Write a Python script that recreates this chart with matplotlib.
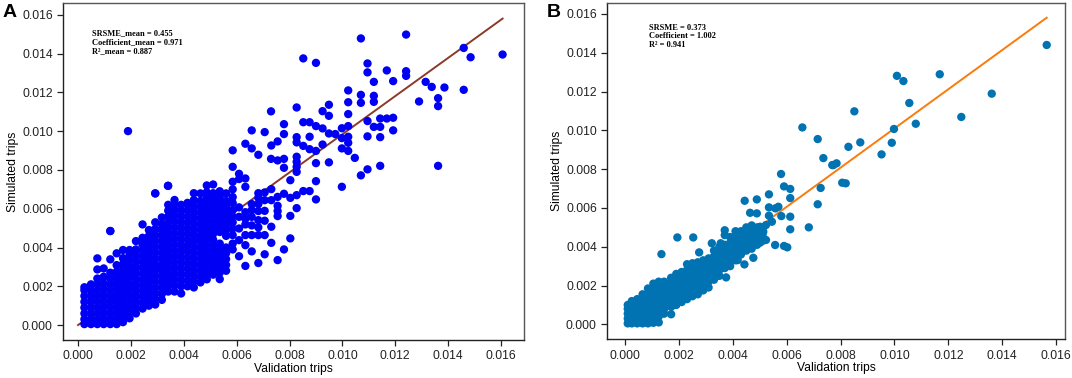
"""Simulated vs validation trips, two panels (A: mean over runs, B: single run)."""
import numpy as np
import matplotlib; matplotlib.use('Agg'); import matplotlib.pyplot as plt
plt.rcParams.update({'font.family': ['Liberation Sans', 'DejaVu Sans'], 'font.size': 8.7})

MILLI = 1e-3  # all values below are in units of 1e-3 trips

# ---- panel A: dense band near the origin, one list of y per x column ----
a_col_x = [0.24, 0.49, 0.73, 0.97, 1.22, 1.46, 1.70, 1.95, 2.19, 2.44, 2.68, 2.92,
           3.17, 3.41, 3.65, 3.90, 4.14, 4.38, 4.63, 4.87, 5.11, 5.36, 5.60, 5.85]
a_col_y = [
    [0.05, 0.3, 0.6, 0.9, 1.2, 1.5, 1.8, 1.95],
    [0.05, 0.3, 0.6, 0.9, 1.2, 1.5, 1.8, 2.1],
    [0.05, 0.3, 0.6, 0.9, 1.2, 1.5, 1.8, 2.1, 2.4, 2.87, 3.44],
    [0.05, 0.35, 0.65, 0.95, 1.25, 1.55, 1.85, 2.15, 2.49, 2.92],
    [0.05, 0.3, 0.6, 0.9, 1.2, 1.5, 1.8, 2.1, 2.4, 2.7, 3.39, 4.85],
    [0.05, 0.35, 0.65, 0.95, 1.25, 1.55, 1.85, 2.15, 2.45, 2.75, 3.09, 3.70],
    [0.15, 0.45, 0.75, 1.05, 1.35, 1.65, 1.95, 2.25, 2.55, 2.85, 3.15, 3.45, 3.87],
    [0.35, 0.65, 0.95, 1.25, 1.55, 1.85, 2.15, 2.45, 2.75, 3.05, 3.35, 3.65, 3.87],
    [0.6, 0.9, 1.2, 1.5, 1.8, 2.1, 2.4, 2.7, 3.0, 3.3, 3.6, 3.9, 4.33],
    [0.85, 1.15, 1.45, 1.75, 2.05, 2.35, 2.65, 2.95, 3.25, 3.55, 3.85, 4.15, 4.5, 5.19],
    [1.0, 1.3, 1.6, 1.9, 2.2, 2.5, 2.8, 3.1, 3.4, 3.7, 4.0, 4.3, 4.6, 4.9],
    [1.06, 1.35, 1.65, 1.95, 2.25, 2.55, 2.85, 3.15, 3.45, 3.75, 4.05, 4.35, 4.65, 4.95, 5.3, 6.79],
    [1.3, 1.6, 1.9, 2.2, 2.5, 2.8, 3.1, 3.4, 3.7, 4.0, 4.3, 4.6, 4.9, 5.2, 5.55],
    [1.73, 2.0, 2.3, 2.6, 2.9, 3.2, 3.5, 3.8, 4.1, 4.4, 4.7, 5.0, 5.3, 5.6, 5.9, 6.2, 7.18],
    [1.73, 2.05, 2.35, 2.65, 2.95, 3.25, 3.55, 3.85, 4.15, 4.45, 4.75, 5.05, 5.35, 5.65, 5.95, 6.25, 6.45],
    [1.63, 2.0, 2.3, 2.6, 2.9, 3.2, 3.5, 3.8, 4.1, 4.4, 4.7, 5.0, 5.3, 5.6, 5.9, 6.2],
    [2.0, 2.3, 2.6, 2.9, 3.2, 3.5, 3.8, 4.1, 4.4, 4.7, 5.0, 5.3, 5.6, 5.9, 6.2, 6.3],
    [1.94, 2.25, 2.55, 2.85, 3.15, 3.45, 3.75, 4.05, 4.35, 4.65, 4.95, 5.25, 5.55, 5.85, 6.15, 6.45, 6.8],
    [2.2, 2.5, 2.8, 3.1, 3.4, 3.7, 4.0, 4.3, 4.6, 4.9, 5.2, 5.5, 5.8, 6.1, 6.4, 6.79],
    [2.36, 2.65, 2.95, 3.25, 3.55, 3.85, 4.15, 4.45, 4.75, 5.05, 5.35, 5.65, 5.95, 6.25, 6.55, 6.85, 7.2],
    [2.6, 2.9, 3.2, 3.5, 3.8, 4.1, 4.4, 4.7, 5.0, 5.3, 5.6, 5.9, 6.2, 6.5, 6.8, 7.25],
    [2.37, 2.7, 3.0, 3.3, 3.6, 3.9, 4.2, 4.8, 5.1, 5.4, 5.7, 6.0, 6.3, 6.6, 6.9],
    [2.8, 3.1, 3.4, 3.7, 4.0, 4.6, 4.9, 5.2, 5.5, 5.8, 6.1, 6.4, 6.79],
    [3.9, 4.2, 4.64, 4.98, 5.3, 5.6, 5.93, 6.3, 6.6, 7.0, 7.39, 8.16, 9.01],
]
# ---- panel A: scattered points ----
a_x = [1.89, 2.92, 3.40, 1.22,
       7.30, 8.27, 7.79, 6.57, 7.06, 7.79, 8.27, 8.27, 7.55, 7.31, 6.33, 6.57, 6.82,
       7.30, 7.55, 7.79, 7.79, 8.27, 8.27, 8.27, 8.27, 6.09, 6.33, 6.09, 6.33, 8.03,
       7.31, 7.06, 6.82, 7.79, 7.55, 7.31, 7.06, 6.82, 6.82, 6.57, 8.03, 8.27, 7.55,
       7.55, 7.55, 8.03, 8.27, 7.06, 6.82, 6.57, 6.33, 6.09, 6.09, 6.33, 6.57, 6.82,
       7.06, 7.31, 6.57, 6.82, 6.33, 6.09, 6.33, 6.57, 6.82, 7.06, 6.33, 7.31, 8.03, 6.09,
       6.09, 6.57, 6.82, 7.06, 7.55, 6.33, 7.79,
       10.70, 12.41, 8.52, 9.00, 14.59, 14.85, 16.06, 10.95, 10.95, 11.68, 12.41, 12.41,
       11.19, 11.92, 13.15, 13.38, 13.86, 14.59, 10.22, 10.70, 11.19, 11.19, 10.70, 10.22,
       12.90, 13.62, 13.62, 9.49, 9.25, 9.49, 10.22, 8.52, 8.76, 9.00, 9.25, 9.49, 9.73,
       9.98, 10.22, 10.95, 11.43, 11.68, 11.92, 11.19, 11.43, 11.92, 10.95, 11.43, 9.98,
       10.22, 10.22, 9.98, 10.22, 10.47, 8.76, 8.52, 8.76, 9.00, 9.25, 9.00, 9.49, 11.43,
       13.62, 10.95, 10.70, 9.00, 9.98, 8.52, 8.76, 9.00]
a_y = [10.0, 6.79, 7.18, 4.85,
       11.02, 11.22, 10.36, 10.04, 9.95, 9.85, 9.69, 9.42, 9.47, 9.26, 9.35, 9.11, 8.78,
       8.57, 8.49, 8.57, 8.11, 8.68, 8.42, 8.16, 7.90, 7.80, 7.56, 7.53, 7.13, 7.47,
       7.01, 6.84, 6.80, 6.77, 6.61, 6.44, 6.44, 6.56, 6.24, 6.24, 6.56, 6.70, 6.15,
       5.88, 5.62, 5.63, 6.03, 5.89, 5.88, 5.93, 5.82, 6.07, 5.58, 5.48, 5.58, 5.41,
       5.38, 5.07, 5.14, 5.04, 5.19, 4.98, 4.64, 4.64, 4.64, 4.64, 4.12, 4.24, 4.47, 4.38,
       3.55, 3.80, 3.20, 3.65, 3.35, 3.05, 3.90,
       14.78, 14.98, 13.75, 13.52, 14.29, 13.81, 13.95, 13.49, 13.03, 13.13, 13.09, 12.85,
       12.54, 12.58, 12.54, 12.28, 12.25, 12.13, 12.10, 11.87, 11.82, 11.51, 11.46, 11.49,
       11.53, 11.70, 11.29, 11.36, 11.03, 10.79, 10.88, 10.46, 10.46, 10.26, 10.14, 9.88, 9.85,
       10.15, 10.26, 10.52, 10.65, 10.65, 10.69, 10.22, 10.22, 10.04, 9.73, 9.69, 9.64,
       9.71, 9.40, 9.11, 8.98, 8.62, 9.71, 9.24, 9.07, 8.98, 9.31, 8.35, 8.39, 8.21,
       8.21, 8.03, 7.72, 7.42, 7.13, 6.91, 6.91, 6.48]

# ---- panel B: dense band ----
b_col_x = [0.10, 0.25, 0.45, 0.65, 0.85, 1.05, 1.25, 1.45, 1.71, 1.90, 2.10, 2.30, 2.50,
           2.70, 2.90, 3.10, 3.30, 3.50, 3.70, 3.90, 4.10, 4.30, 4.50, 4.70, 4.90, 5.10]
b_col_y = [
    [0.05, 0.3, 0.55, 0.8, 1.0],
    [0.05, 0.3, 0.55, 0.8, 1.05, 1.2],
    [0.05, 0.3, 0.55, 0.8, 1.05, 1.3],
    [0.05, 0.3, 0.55, 0.8, 1.05, 1.3, 1.55],
    [0.05, 0.3, 0.55, 0.8, 1.05, 1.3, 1.55, 1.85],
    [0.08, 0.35, 0.6, 0.85, 1.1, 1.35, 1.6, 1.9, 2.1],
    [0.1, 0.4, 0.65, 0.9, 1.15, 1.4, 1.65, 1.9, 2.2],
    [0.55, 0.8, 1.05, 1.3, 1.55, 1.8, 2.05, 2.2],
    [0.52, 0.9, 1.15, 1.4, 1.65, 1.9, 2.15, 2.4],
    [1.0, 1.25, 1.5, 1.75, 2.0, 2.25, 2.6],
    [1.15, 1.4, 1.65, 1.9, 2.15, 2.4, 2.7],
    [1.3, 1.55, 1.8, 2.05, 2.3, 2.55, 2.8, 3.1],
    [1.45, 1.7, 1.95, 2.2, 2.45, 2.7, 2.95, 3.15],
    [1.55, 1.85, 2.1, 2.35, 2.6, 2.85, 3.2],
    [1.75, 2.0, 2.3, 2.55, 2.8, 3.05, 3.3],
    [1.9, 2.2, 2.5, 2.8, 3.1, 3.4],
    [2.3, 2.6, 2.9, 3.2, 3.5, 3.8],
    [2.5, 2.8, 3.1, 3.4, 3.7, 4.0],
    [2.9, 3.2, 3.5, 3.8, 4.1, 4.6, 4.85],
    [3.0, 3.3, 3.6, 3.9, 4.2, 4.5],
    [3.3, 3.6, 3.9, 4.2, 4.5, 4.8],
    [3.6, 3.9, 4.2, 4.5, 4.8],
    [3.8, 4.1, 4.4, 4.7, 5.0],
    [3.9, 4.2, 4.5, 4.8, 5.1],
    [4.1, 4.4, 4.7, 5.0],
    [4.3, 4.6, 4.9],
]
# ---- panel B: scattered points ----
b_x = [15.65, 10.09, 10.33, 11.68, 13.61, 10.55, 8.51, 12.48, 10.79, 9.98, 8.73, 9.90,
       8.29, 9.52, 7.73, 7.85, 8.06, 8.19,
       6.58, 7.15, 7.36, 7.69, 5.79, 5.90, 6.13, 6.13, 5.34, 7.26, 7.15, 5.34, 5.58, 5.69,
       5.80, 5.34, 6.13, 6.13, 6.82, 5.45, 5.23, 5.01, 5.13, 5.23, 5.01, 5.57, 5.90, 6.02,
       4.44, 4.89, 4.64, 4.89, 1.94, 2.53, 1.35, 2.75, 3.22, 3.55, 4.18, 4.43, 4.76, 3.75]
b_y = [14.40, 12.81, 12.54, 12.89, 11.89, 11.41, 10.98, 10.69, 10.34, 10.07, 9.38, 9.36,
       9.15, 8.76, 8.21, 8.30, 7.30, 7.27,
       10.15, 9.55, 8.57, 8.21, 7.75, 7.11, 6.98, 6.51, 6.70, 7.03, 6.19, 6.03, 5.98, 6.06,
       5.58, 5.60, 5.55, 4.90, 5.00, 5.29, 5.12, 5.03, 4.77, 4.35, 4.21, 4.09, 4.04, 3.97,
       6.37, 6.44, 5.75, 5.72, 4.48, 4.48, 3.62, 3.71, 4.18, 4.18, 3.31, 3.09, 3.43, 2.42]

# fitted lines (slope) and annotation text
slope_a, slope_b = 0.984, 1.01
text_a = 'SRSME_mean = 0.455\nCoefficient_mean = 0.971\nR²_mean = 0.887'
text_b = 'SRSME = 0.373\nCoefficient = 1.002\nR² = 0.941'
ticks = [0, 2, 4, 6, 8, 10, 12, 14, 16]


def flat(col_x, col_y, px, py):
    xs = [x for x, ys in zip(col_x, col_y) for _ in ys] + px
    ys = [y for ys in col_y for y in ys] + py
    return np.array(xs) * MILLI, np.array(ys) * MILLI


fig = plt.figure(figsize=(10.72, 3.78), dpi=100)
axA = fig.add_axes([0.0590, 0.1005, 0.4298, 0.8907])
axB = fig.add_axes([0.5665, 0.1024, 0.4270, 0.8905])

panels = [
    (axA, flat(a_col_x, a_col_y, a_x, a_y), slope_a, '#0000f5', '#8b3a2a', text_a,
     (-0.56, 16.87), (-0.77, 16.59), (0.062, 0.922)),
    (axB, flat(b_col_x, b_col_y, b_x, b_y), slope_b, '#0172b2', '#fb7a0c', text_b,
     (-0.66, 16.33), (-0.77, 16.58), (0.092, 0.938)),
]
for ax, (xs, ys), k, pc, lc, txt, xl, yl, tpos in panels:
    xx = np.array([0, xs.max()])
    ax.plot(xx, k * xx, color=lc, lw=1.4, zorder=1)
    ax.scatter(xs, ys, s=36, color=pc, edgecolors='none', zorder=2)
    ax.set_xlim(xl[0] * MILLI, xl[1] * MILLI); ax.set_ylim(yl[0] * MILLI, yl[1] * MILLI)
    ax.set_xticks([t * MILLI for t in ticks]); ax.set_yticks([t * MILLI for t in ticks])
    ax.set_xticklabels([f'{t * MILLI:.3f}' for t in ticks])
    ax.set_yticklabels([f'{t * MILLI:.3f}' for t in ticks])
    ax.tick_params(direction='out', length=4, width=0.9, labelsize=8.7, colors='#222')
    for s in ['left', 'bottom']: ax.spines[s].set_color('#222')
    for s in ['top', 'right']: ax.spines[s].set_color('#555')
    for s in ax.spines.values(): s.set_linewidth(1.0)
    ax.set_xlabel('Validation trips', fontsize=8.7, labelpad=0.5)
    ax.set_ylabel('Simulated trips', fontsize=8.7, labelpad=2)
    ax.text(*tpos, txt, transform=ax.transAxes, va='top', ha='left',
            family=['Liberation Serif', 'DejaVu Serif'], weight='bold', fontsize=6.0, linespacing=1.15)

fig.text(3 / 1072, 1 - 4 / 378, 'A', ha='left', va='top', fontsize=14, weight='bold')
fig.text(547 / 1072, 1 - 4 / 378, 'B', ha='left', va='top', fontsize=14, weight='bold')
fig.savefig('out.png', dpi=100)
